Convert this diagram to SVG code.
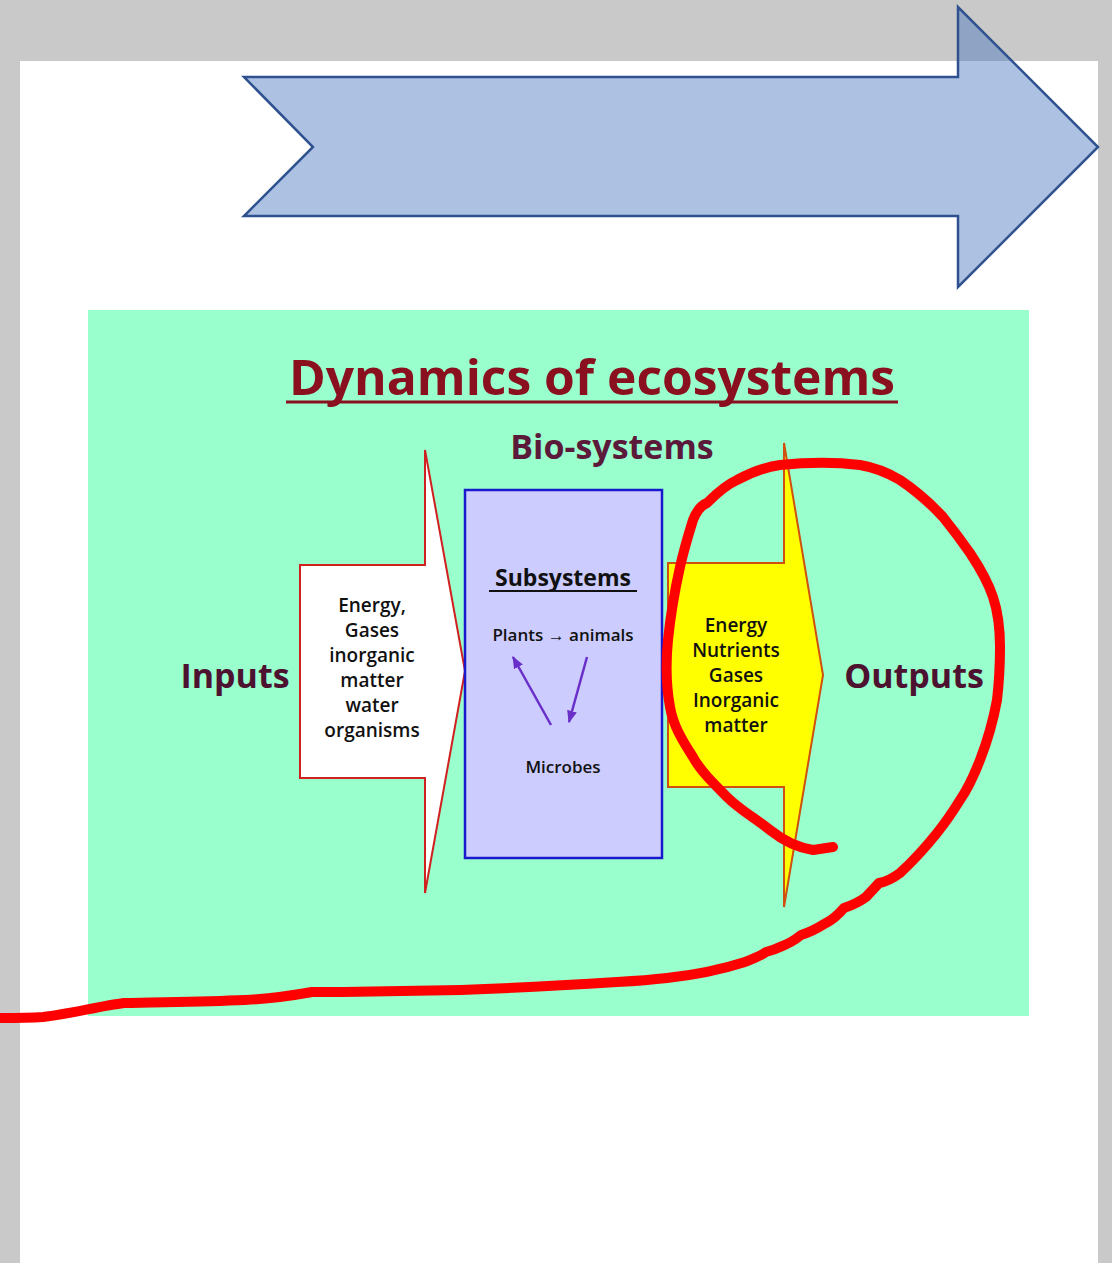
<svg xmlns="http://www.w3.org/2000/svg" width="1112" height="1263" viewBox="0 0 1112 1263">
<defs>
<style>
.t{font-family:"Comic Sans MS","Open Sans","Noto Sans",sans-serif;text-anchor:middle}
.big{font-size:34px;font-weight:bold;fill:#4d1230}
.small{font-size:19px;font-weight:600;fill:#111}
.tiny{font-size:17px;font-weight:600;fill:#111}
.purple{stroke:#6a2fc8;stroke-width:2.5;fill:none}
</style>
<marker id="ph" viewBox="0 0 10 10" refX="9" refY="5" markerWidth="5" markerHeight="5" orient="auto"><path d="M0,1 L10,5 L0,9 z" fill="#6a2fc8"/></marker>
</defs>
<rect x="0" y="0" width="1112" height="1263" fill="#c8c9c8"/>
<rect x="20" y="61" width="1078" height="1202" fill="#ffffff"/>
<g id="big-arrow">
<path d="M244,77 L958,77 L958,7 L1098,147 L958,287 L958,216 L244,216 L313,147 Z" fill="#4978c1" fill-opacity="0.45" stroke="#2f528f" stroke-width="2.5" stroke-linejoin="miter"/>
</g>
<rect x="88" y="310" width="941" height="706" fill="#99ffcc"/>
<g id="title">
<text class="t" x="592" y="395" font-size="48" font-weight="bold" fill="#8a1020" textLength="606" lengthAdjust="spacingAndGlyphs">Dynamics of ecosystems</text>
<line x1="286" y1="402" x2="898" y2="402" stroke="#8a1020" stroke-width="3"/>
</g>
<g id="bio-systems"><text class="t" x="612" y="459" font-size="34" font-weight="bold" fill="#5c1a3a">Bio-systems</text></g>
<g id="inputs-label"><text class="t big" x="235" y="688">Inputs</text></g>
<g id="input-arrow">
<path d="M300,565 L425,565 L425,450 L465,671 L425,893 L425,778 L300,778 Z" fill="#ffffff" stroke="#d02020" stroke-width="2"/>
<text class="t small"><tspan x="372" y="612">Energy,</tspan><tspan x="372" y="637">Gases</tspan><tspan x="372" y="662">inorganic</tspan><tspan x="372" y="687">matter</tspan><tspan x="372" y="712">water</tspan><tspan x="372" y="737">organisms</tspan></text>
</g>
<g id="subsystems">
<rect x="465" y="490" width="197" height="368" fill="#ccccff" stroke="#1a1acc" stroke-width="2.5"/>
<text class="t" x="563" y="586" font-size="23" font-weight="bold" fill="#111">Subsystems</text>
<line x1="489" y1="591" x2="637" y2="591" stroke="#111" stroke-width="2"/>
<text class="t tiny" x="563" y="641">Plants → animals</text>
<text class="t tiny" x="563" y="773">Microbes</text>
</g>
<g id="connectors">
<line class="purple" x1="551" y1="725" x2="513" y2="657" marker-end="url(#ph)"/>
<line class="purple" x1="587" y1="657" x2="569" y2="722" marker-end="url(#ph)"/>
</g>
<g id="output-arrow">
<path d="M668,563 L784,563 L784,443 L823,675 L784,907 L784,787 L668,787 Z" fill="#ffff00" stroke="#d05010" stroke-width="2"/>
<text class="t small"><tspan x="736" y="632">Energy</tspan><tspan x="736" y="657">Nutrients</tspan><tspan x="736" y="682">Gases</tspan><tspan x="736" y="707">Inorganic</tspan><tspan x="736" y="732">matter</tspan></text>
</g>
<g id="outputs-label"><text class="t big" x="914" y="688">Outputs</text></g>
<g id="scribble">
<path d="M833,847 L813,850 C800,848 785,842 770,830 C755,818 740,810 727,797 C712,782 700,770 693,757 C682,740 673,725 670,707 C666,685 666,660 668,640 C671,610 676,585 680,567 C685,545 690,530 693,520 C697,510 702,505 707,503 C718,492 728,484 737,480 C752,472 765,467 780,465 C810,462 835,462 860,465 C878,468 890,474 900,480 C915,490 930,503 943,517 C955,532 963,543 970,553 C980,568 988,582 993,597 C998,612 1000,630 1000,647 C1000,665 999,683 997,700 C993,722 987,742 980,760 C973,778 967,790 960,800 C952,813 945,823 937,833 C925,848 912,862 900,873 C892,879 885,882 879,883 L866,897 C858,903 850,906 844,908 C838,915 832,920 826,923 C818,928 812,932 801,935 C795,940 788,944 780,947 C774,950 770,951 766,952 C759,957 752,959 745,962 C720,970 695,975 667,978 C650,980 635,981 617,982 C570,985 515,988 461,990 C420,991 380,991 340,992 C330,992 320,992 312,992 C290,996 265,999 245,1000 C200,1002 160,1002 124,1003 C100,1006 70,1014 43,1017 C28,1018 14,1018 0,1018" fill="none" stroke="#ff0000" stroke-width="10" stroke-linecap="round" stroke-linejoin="round"/>
</g>
</svg>
